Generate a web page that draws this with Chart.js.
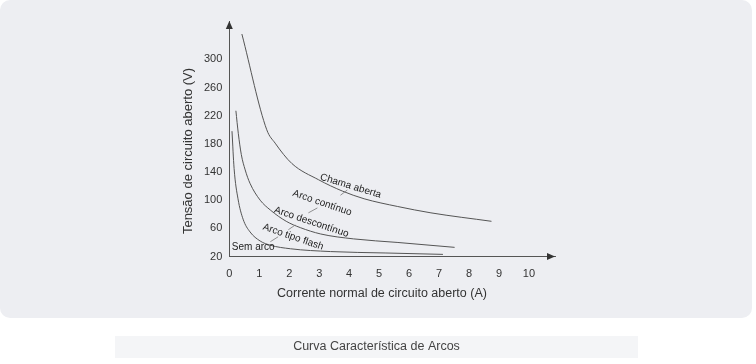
<!DOCTYPE html>
<html>
<head>
<meta charset="utf-8">
<script src="https://cdn.jsdelivr.net/npm/chart.js@4"></script>
<style>
  html, body { margin: 0; padding: 0; background: #fff; }
  canvas { display: block; }
</style>
</head>
<body>
<canvas id="myChart" width="756" height="364"></canvas>
<script>
// values (current in A, voltage in V)
const chamaX = [0.42, 1.25, 1.53, 2.09, 2.98, 3.77, 4.5, 5.62, 6.73, 8.75];
const chamaY = [336, 200, 181, 152, 129, 113, 102, 91, 82, 70];
const arcoX = [0.22, 0.3, 0.4, 0.53, 0.69, 1.03, 1.37, 1.9, 2.37, 3.05, 4.15, 5.6, 7.52];
const arcoY = [227, 195, 165, 143, 124, 100, 86, 70, 61, 52, 45, 40, 33];
const flashX = [0.09, 0.16, 0.29, 0.46, 0.69, 1.03, 1.37, 2.04, 3.38, 5.2, 7.13];
const flashY = [198, 145, 102, 73, 55, 42, 36, 31, 27, 25, 23];

const xTicks = [0, 1, 2, 3, 4, 5, 6, 7, 8, 9, 10];
const yTicks = [20, 60, 100, 140, 180, 220, 260, 300];

const xTitle = "Corrente normal de circuito aberto (A)";
const yTitle = "Tensão de circuito aberto (V)";
const caption = "Curva Característica de Arcos";

// curve labels: [text, x, y, angle in degrees, leader from, leader to]
const curveLabels = [
  ["Chama aberta", 4.05, 120, 17, [3.71, 107], [3.94, 114.5]],
  ["Arco contínuo", 3.1, 96, 19, [2.64, 82], [2.94, 89]],
  ["Arco descontínuo", 2.74, 69, 18.5, [1.97, 58], [2.2, 64.7]],
  ["Arco tipo flash", 2.13, 47.7, 19, [1.37, 41], [1.63, 48]],
  ["Sem arco", 0.8, 32.5, 0, null, null]
];

const toPoints = (xs, ys) => xs.map((x, i) => ({ x: x, y: ys[i] }));

const lineStyle = {
  borderColor: "#555",
  borderWidth: 1,
  pointRadius: 0,
  fill: false,
  cubicInterpolationMode: "monotone"
};

const font = "'Liberation Sans', Arial, sans-serif";

const decor = {
  id: "decor",
  beforeDraw(chart) {
    const ctx = chart.ctx;
    ctx.save();
    // grey panel
    ctx.fillStyle = "#edeef2";
    ctx.beginPath();
    ctx.roundRect(0, 0, 752, 318, 10);
    ctx.fill();
    // caption strip
    ctx.fillStyle = "#f4f5f7";
    ctx.fillRect(115, 336, 523, 22);
    ctx.fillStyle = "#444";
    ctx.font = "12.5px " + font;
    ctx.textAlign = "center";
    ctx.textBaseline = "middle";
    ctx.fillText(caption, 376.5, 347);
    ctx.restore();
  },
  afterDraw(chart) {
    const ctx = chart.ctx;
    const xs = chart.scales.x, ys = chart.scales.y;
    const a = chart.chartArea;
    ctx.save();
    // arrow heads
    ctx.fillStyle = "#333";
    ctx.beginPath();
    ctx.moveTo(a.left, a.top);
    ctx.lineTo(a.left - 3.5, a.top + 8);
    ctx.lineTo(a.left + 3.5, a.top + 8);
    ctx.closePath();
    ctx.fill();
    ctx.beginPath();
    ctx.moveTo(a.right, a.bottom);
    ctx.lineTo(a.right - 8, a.bottom - 3.5);
    ctx.lineTo(a.right - 8, a.bottom + 3.5);
    ctx.closePath();
    ctx.fill();

    // axis titles
    ctx.fillStyle = "#333";
    ctx.textAlign = "center";
    ctx.textBaseline = "middle";
    ctx.font = "12.5px " + font;
    ctx.fillText(xTitle, 382, 294);
    ctx.save();
    ctx.translate(188, 151);
    ctx.rotate(-Math.PI / 2);
    ctx.font = "13px " + font;
    ctx.fillText(yTitle, 0, 0);
    ctx.restore();

    // curve labels and leader lines
    ctx.font = "10px " + font;
    curveLabels.forEach(([text, x, y, ang, p0, p1]) => {
      if (p0) {
        ctx.strokeStyle = "#777";
        ctx.lineWidth = 0.8;
        ctx.beginPath();
        ctx.moveTo(xs.getPixelForValue(p0[0]), ys.getPixelForValue(p0[1]));
        ctx.lineTo(xs.getPixelForValue(p1[0]), ys.getPixelForValue(p1[1]));
        ctx.stroke();
      }
      ctx.save();
      ctx.translate(xs.getPixelForValue(x), ys.getPixelForValue(y));
      ctx.rotate(ang * Math.PI / 180);
      ctx.fillStyle = "#222";
      ctx.fillText(text, 0, 0);
      ctx.restore();
    });
    ctx.restore();
  }
};

new Chart(document.getElementById("myChart"), {
  type: "line",
  data: {
    datasets: [
      Object.assign({ label: "Chama aberta", data: toPoints(chamaX, chamaY) }, lineStyle),
      Object.assign({ label: "Arco descontínuo", data: toPoints(arcoX, arcoY) }, lineStyle),
      Object.assign({ label: "Arco tipo flash", data: toPoints(flashX, flashY) }, lineStyle)
    ]
  },
  options: {
    responsive: false,
    animation: false,
    layout: { padding: { left: 0, right: 201, top: 21, bottom: 0 } },
    plugins: { legend: { display: false }, tooltip: { enabled: false } },
    scales: {
      x: {
        type: "linear",
        min: 0,
        max: 10.87,
        grid: { display: false, drawTicks: false },
        border: { display: true, color: "#555", width: 1 },
        afterBuildTicks: s => { s.ticks = xTicks.map(v => ({ value: v })); },
        afterFit: s => { s.height = 107.5; },
        ticks: { padding: 11, color: "#333", font: { family: font, size: 11 } }
      },
      y: {
        type: "linear",
        min: 20,
        max: 354.5,
        grid: { display: false, drawTicks: false },
        border: { display: true, color: "#555", width: 1 },
        afterBuildTicks: s => { s.ticks = yTicks.map(v => ({ value: v })); },
        afterFit: s => { s.width = 229.3; },
        ticks: { padding: 7, color: "#333", font: { family: font, size: 11 } }
      }
    }
  },
  plugins: [decor]
});
</script>
</body>
</html>
